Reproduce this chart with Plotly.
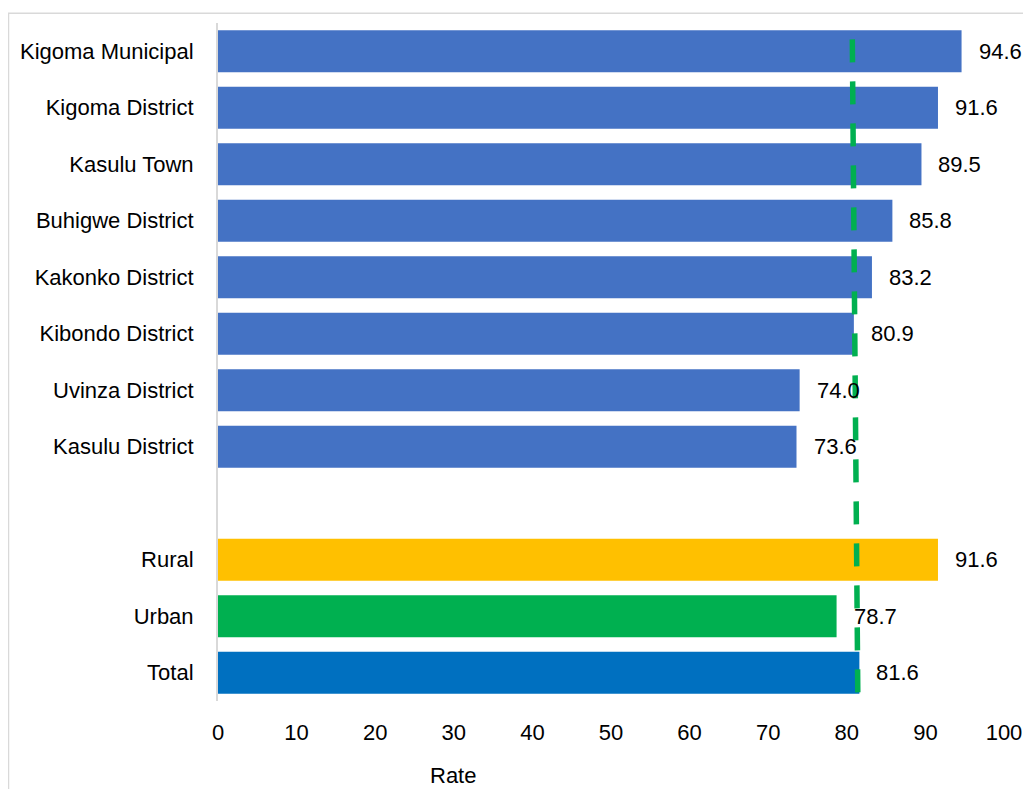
import plotly.graph_objects as go

# ---- data ----
categories = ["Kigoma Municipal", "Kigoma District", "Kasulu Town", "Buhigwe District",
              "Kakonko District", "Kibondo District", "Uvinza District", "Kasulu District",
              "Rural", "Urban", "Total"]
values = [94.6, 91.6, 89.5, 85.8, 83.2, 80.9, 74.0, 73.6, 91.6, 78.7, 81.6]
row_positions = [0, 1, 2, 3, 4, 5, 6, 7, 9, 10, 11]
bar_colors = ["#4472C4"] * 8 + ["#FFC000", "#00B050", "#0070C0"]
x_ticks = [0, 10, 20, 30, 40, 50, 60, 70, 80, 90, 100]
ref_line_x = [80.7, 81.4]   # hand-drawn dashed reference line (top, bottom)
ref_line_y = [-0.21, 11.36]

FONT = "Liberation Sans, Arial, sans-serif"
FS = 22
OFF = 8                      # browser body margin
W, H = 1031 - OFF, 789 - OFF
# plot area in page pixels: x 218..1004, y 22.75..700.75
L = 218 - OFF
R = W - (1004 - OFF)
T = 22.75 - OFF
B = H - (700.75 - OFF)

fig = go.Figure()
fig.add_trace(go.Bar(
    x=values, y=row_positions, orientation="h",
    marker=dict(color=bar_colors, line=dict(width=0)),
    width=0.74, hoverinfo="x+y",
))

for v, p in zip(values, row_positions):
    fig.add_annotation(x=v, y=p, text=f"{v:.1f}", showarrow=False,
                       xanchor="left", yanchor="middle", xshift=15,
                       font=dict(family=FONT, size=FS, color="#000000"))

fig.add_shape(type="line", xref="x", yref="y",
              x0=ref_line_x[0], x1=ref_line_x[1], y0=ref_line_y[0], y1=ref_line_y[1],
              line=dict(color="#00B050", width=5.5, dash="23px,19px"), layer="above")

pw, ph = W - L - R, H - T - B
def page_x(px):
    return (px - OFF - L) / pw
def page_y(py):
    return (H - B - (py - OFF)) / ph

# outer chart border
fig.add_shape(type="rect", xref="paper", yref="paper",
              x0=page_x(8.5), x1=page_x(1040), y0=page_y(800), y1=page_y(13),
              line=dict(color="#D9D9D9", width=1.5), fillcolor="rgba(0,0,0,0)", layer="below")

fig.add_annotation(x=page_x(453), y=page_y(775), xref="paper", yref="paper",
                   text="Rate", showarrow=False, xanchor="center", yanchor="middle",
                   font=dict(family=FONT, size=FS, color="#000000"))

fig.update_layout(
    width=W, height=H,
    margin=dict(l=L, r=R, t=T, b=B, pad=0),
    paper_bgcolor="white", plot_bgcolor="white",
    showlegend=False,
    font=dict(family=FONT, size=FS, color="#000000"),
    xaxis=dict(range=[0, 100], tickvals=x_ticks, showgrid=False, zeroline=False,
               showline=False, ticks="", ticklabelstandoff=16, automargin=False,
               tickfont=dict(family=FONT, size=FS, color="#000000")),
    yaxis=dict(range=[11.5, -0.5], tickvals=row_positions, ticktext=categories,
               showgrid=False, zeroline=False, showline=True, linecolor="#D9D9D9",
               linewidth=2, ticks="", ticklabelstandoff=18, automargin=False,
               tickfont=dict(family=FONT, size=FS, color="#000000")),
)

fig.write_html("out.html")
